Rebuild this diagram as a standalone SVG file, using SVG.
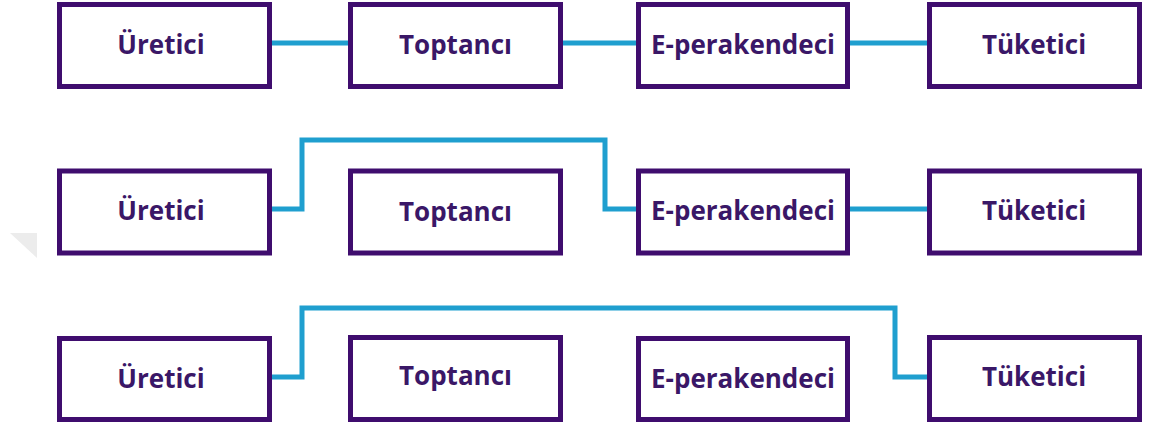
<svg xmlns="http://www.w3.org/2000/svg" width="1150" height="428" viewBox="0 0 1150 428">
  <style>
    .box { fill: #ffffff; stroke: #3f0d6e; stroke-width: 5; }
    .lbl { font-family: "Open Sans", "Liberation Sans", sans-serif; font-weight: bold; font-size: 26px; fill: #3a1767; text-anchor: middle; }
    .conn { fill: none; stroke: #1f9fcf; stroke-width: 5; stroke-linejoin: miter; }
  </style>
  <rect x="0" y="0" width="1150" height="428" fill="#ffffff"/>
  <polygon points="10,233 37,233 37,258" fill="#ececec"/>

  <g id="connectors">
    <line class="conn" x1="272" y1="43" x2="348" y2="43"/>
    <line class="conn" x1="563" y1="43" x2="636" y2="43"/>
    <line class="conn" x1="850" y1="43" x2="927" y2="43"/>
    <polyline class="conn" points="272,209 302,209 302,140 605,140 605,209 636,209"/>
    <line class="conn" x1="850" y1="209" x2="927" y2="209"/>
    <polyline class="conn" points="272,377 302,377 302,308 895,308 895,377 927,377"/>
  </g>

  <g id="r1-uretici"><rect class="box" x="59.5" y="4.5" width="210" height="82"/><text class="lbl" x="161" y="54">Üretici</text></g>
  <g id="r1-toptanci"><rect class="box" x="350.5" y="4.5" width="210" height="82"/><text class="lbl" x="455.5" y="54">Toptancı</text></g>
  <g id="r1-eperakendeci"><rect class="box" x="638.5" y="4.5" width="209" height="82"/><text class="lbl" x="743" y="54">E-perakendeci</text></g>
  <g id="r1-tuketici"><rect class="box" x="929.5" y="4.5" width="210" height="82"/><text class="lbl" x="1034" y="54">Tüketici</text></g>

  <g id="r2-uretici"><rect class="box" x="59.5" y="171" width="210" height="82"/><text class="lbl" x="161" y="220">Üretici</text></g>
  <g id="r2-toptanci"><rect class="box" x="350.5" y="171" width="210" height="82"/><text class="lbl" x="455.5" y="221">Toptancı</text></g>
  <g id="r2-eperakendeci"><rect class="box" x="638.5" y="171" width="209" height="82"/><text class="lbl" x="743" y="220">E-perakendeci</text></g>
  <g id="r2-tuketici"><rect class="box" x="929.5" y="171" width="210" height="82"/><text class="lbl" x="1034" y="220">Tüketici</text></g>

  <g id="r3-uretici"><rect class="box" x="59.5" y="338.5" width="210" height="81"/><text class="lbl" x="161" y="388">Üretici</text></g>
  <g id="r3-toptanci"><rect class="box" x="350.5" y="337.5" width="210" height="82"/><text class="lbl" x="455.5" y="385">Toptancı</text></g>
  <g id="r3-eperakendeci"><rect class="box" x="638.5" y="338.5" width="209" height="81"/><text class="lbl" x="743" y="388">E-perakendeci</text></g>
  <g id="r3-tuketici"><rect class="box" x="929.5" y="337.5" width="210" height="82"/><text class="lbl" x="1034" y="386">Tüketici</text></g>
</svg>
